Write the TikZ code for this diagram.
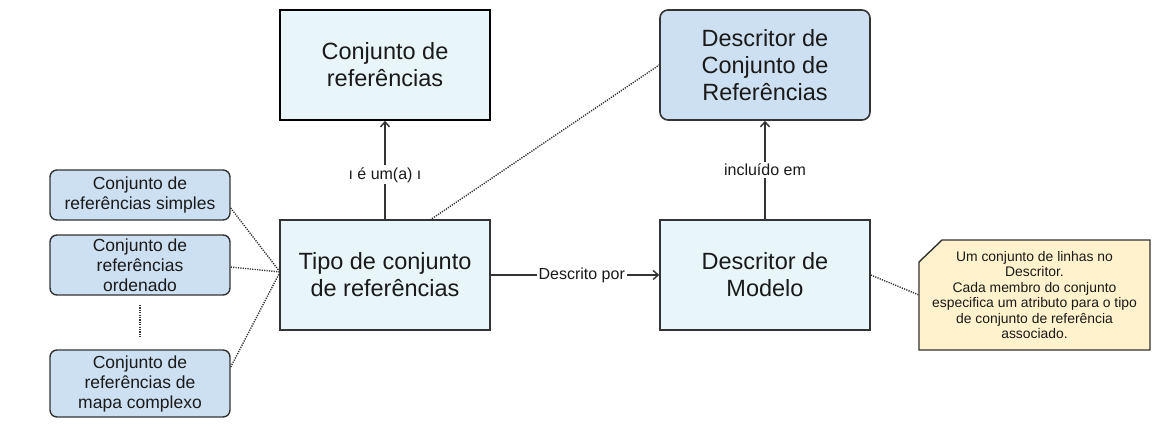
\documentclass[tikz,border=0pt]{standalone}
\usepackage{fontspec}
\setmainfont{Liberation Sans}
\usetikzlibrary{arrows.meta}
\definecolor{cyanfill}{HTML}{E8F6FA}
\definecolor{bluefill}{HTML}{CDE0F2}
\definecolor{notefill}{HTML}{FFF2CC}
\definecolor{edge}{HTML}{333333}
\definecolor{txt}{HTML}{1A1A1A}
\begin{document}
\begin{tikzpicture}[x=1pt,y=-1pt,
  bigbox/.style={draw=edge,line width=1.6pt,fill=cyanfill,minimum width=210pt,minimum height=110pt,align=center,font=\fontsize{23.5}{27}\selectfont,text=txt},
  bluebox/.style={draw=edge,line width=1.6pt,fill=bluefill,rounded corners=8pt,minimum width=210pt,minimum height=110pt,align=center,font=\fontsize{23.5}{27}\selectfont,text=txt},
  smallbox/.style={draw=edge,line width=1.4pt,fill=bluefill,rounded corners=7pt,minimum width=180pt,align=center,font=\fontsize{17.5}{20}\selectfont,text=txt,inner sep=0pt},
  arr/.style={draw=edge,line width=1.4pt,-{Straight Barb[length=5pt,width=9pt]}},
  dots/.style={draw=edge,line width=1.4pt,dash pattern=on 1.2pt off 1.2pt},
  lbl/.style={fill=white,font=\fontsize{16}{18}\selectfont,text=txt,inner sep=2pt}]
\useasboundingbox (0,0) rectangle (1175,440);
\fill[white] (0,0) rectangle (1175,440);
\node[bigbox,draw=black] (cr) at (385,65) {Conjunto de\\referências};
\node[bluebox] (dcr) at (765,65) {Descritor de\\Conjunto de\\Referências};
\node[bigbox] (tipo) at (385,275) {Tipo de conjunto\\de referências};
\node[bigbox] (dm) at (765,275) {Descritor de\\Modelo};
\node[smallbox,minimum height=50pt] (s1) at (140,195) {Conjunto de\\referências simples};
\node[smallbox,minimum height=60pt] (s2) at (140,265) {Conjunto de\\referências\\ordenado};
\node[smallbox,minimum height=67pt] (s3) at (140,383.5) {Conjunto de\\referências de\\mapa complexo};
% note
\draw[draw=edge,line width=1.4pt,fill=notefill] (919,262) -- (942,240) -- (1150,240) -- (1150,350) -- (919,350) -- cycle;
\node[align=center,font=\fontsize{13.9}{15.4}\selectfont,text=txt] (note) at (1034.5,295) {Um conjunto de linhas no\\Descritor.\\Cada membro do conjunto\\especifica um atributo para o tipo\\de conjunto de referência\\associado.};
\coordinate (notel) at (919,295);
% connectors
\draw[arr] (tipo.north) -- node[lbl,pos=0.45] {ı é um(a) ı} (cr.south);
\draw[arr] (dm.north) -- node[lbl,pos=0.5] {incluído em} (dcr.south);
\draw[arr] (tipo.east) -- node[lbl,pos=0.54] {Descrito por} (dm.west);
\coordinate (tipotop) at (430,220);
\draw[dots] (tipotop) -- (dcr.west);
\draw[dots] (dm.east) -- (notel);
\coordinate (tipol) at (280,272);
\draw[dots] (s1.east |- 0,208) -- (tipol);
\draw[dots] (s2.east) ++(0,2) -- (tipol);
\draw[dots] (s3.east |- 0,367) -- (tipol);
\coordinate (va) at (140,305);
\coordinate (vb) at (140,337);
\draw[dots] (va) -- (vb);
\end{tikzpicture}
\end{document}
